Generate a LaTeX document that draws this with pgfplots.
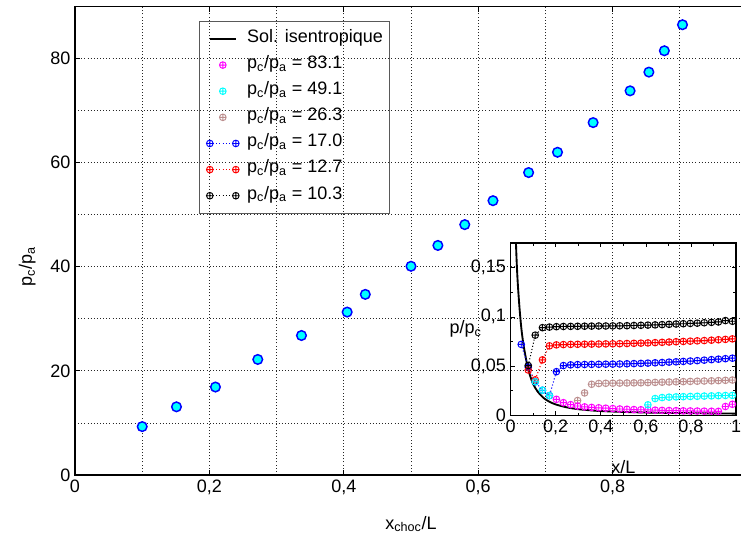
\documentclass[border=0pt]{standalone}
\usepackage{fontspec}
\setmainfont{Liberation Sans}
\usepackage{pgfplots}
\pgfplotsset{compat=1.18}
\definecolor{cmag}{RGB}{255,0,255}
\definecolor{ccyan}{RGB}{0,255,255}
\definecolor{cbrown}{RGB}{188,143,143}
\definecolor{cblue}{RGB}{0,0,255}
\definecolor{cred}{RGB}{255,0,0}
\pgfplotsset{
  ins/.style={mark=oplus, mark size=2.5pt, line width=0.7pt, mark options={solid, line width=0.7pt}},
  insonly/.style={ins, only marks},
  insline/.style={ins, line width=0.8pt, dash pattern=on 0.8pt off 1.6pt},
  dotgrid/.style={black!85, line width=0.6pt, dash pattern=on 0.75pt off 1.6pt},
  legline/.style={legend image code/.code={\draw[##1] (0pt,0pt) -- (19.5pt,0pt);}},
  legmark/.style={legend image code/.code={\path[draw=none] (0pt,0pt) -- (19.5pt,0pt); \draw[##1] plot coordinates {(9.75pt,0pt)};}},
  leglinemark/.style={legend image code/.code={\draw[##1] plot coordinates {(0pt,0pt) (19.5pt,0pt)};}},
}
\begin{document}
\begin{tikzpicture}[font=\fontsize{13.5}{16}\selectfont]
\useasboundingbox (0,0) rectangle (555.75pt,402.75pt);
% ---------------- main axis ----------------
\begin{axis}[
  at={(56.25pt,46.5pt)}, anchor=south west,
  width=504pt, height=351.375pt, scale only axis,
  xmin=0, xmax=1, ymin=0, ymax=90,
  xtick={0,0.2,0.4,0.6,0.8}, minor xtick={0.1,0.3,0.5,0.7,0.9},
  ytick={0,20,40,60,80}, minor ytick={10,30,50,70},
  grid=both,
  major grid style={dotgrid}, minor grid style={dotgrid},
  tick align=inside, major tick length=4pt, minor tick length=0pt,
  tick style={black, line width=0.6pt},
  axis line style={black, line width=1.1pt},
  /pgf/number format/use comma, /pgf/number format/fixed,
  /pgf/number format/assume math mode=true,
  xlabel={x\textsubscript{choc}/L},
  xlabel style={at={(axis description cs:0.5,-0.1153)}, anchor=base},
  ylabel={p\textsubscript{c}/p\textsubscript{a}},
  ylabel style={at={(axis description cs:-0.064,0.444)}, anchor=base},
  legend cell align=left,
  legend style={at={(axis description cs:0.185,0.9697)}, anchor=north west,
    draw=black!65, line width=0.75pt, fill=none,
    inner xsep=5pt, inner ysep=3.5pt, row sep=0pt, column sep=6pt,
    nodes={inner sep=0pt, text height=12.3pt, text depth=7.3pt}},
]
\addlegendimage{black, line width=1.4pt, legline}
\addlegendentry{Sol. isentropique}
\addlegendimage{insonly, cmag, legmark}
\addlegendentry{p\textsubscript{c}/p\textsubscript{a} = 83.1}
\addlegendimage{insonly, ccyan, legmark}
\addlegendentry{p\textsubscript{c}/p\textsubscript{a} = 49.1}
\addlegendimage{insonly, cbrown, legmark}
\addlegendentry{p\textsubscript{c}/p\textsubscript{a} = 26.3}
\addlegendimage{insline, cblue, leglinemark}
\addlegendentry{p\textsubscript{c}/p\textsubscript{a} = 17.0}
\addlegendimage{insline, cred, leglinemark}
\addlegendentry{p\textsubscript{c}/p\textsubscript{a} = 12.7}
\addlegendimage{insline, black, leglinemark}
\addlegendentry{p\textsubscript{c}/p\textsubscript{a} = 10.3}
\addplot[forget plot, only marks, mark=*, mark size=3.6pt,
  mark options={fill=ccyan, draw=cblue, line width=1.1pt}] coordinates {
(0.100,9.3) (0.151,13.1) (0.209,16.9) (0.272,22.2) (0.337,26.8) (0.405,31.3)
(0.432,34.7) (0.500,40.1) (0.540,44.1) (0.580,48.1) (0.622,52.7) (0.675,58.1)
(0.718,62.0) (0.771,67.7) (0.826,73.8) (0.854,77.4) (0.877,81.5) (0.904,86.5)};
\end{axis}
% ---------------- inset ----------------
\begin{axis}[
  at={(383.0pt,91.3pt)}, anchor=south west,
  width=169pt, height=129.2pt, scale only axis,
  xmin=0, xmax=1, ymin=0, ymax=0.175,
  xtick={0,0.2,0.4,0.6,0.8,1}, minor xtick={0.1,0.3,0.5,0.7,0.9},
  ytick={0,0.05,0.1,0.15}, minor ytick={0.025,0.075,0.125},
  tick align=inside, major tick length=3pt, minor tick length=2pt,
  tick style={black, line width=0.5pt},
  axis line style={black, line width=1.1pt},
  /pgf/number format/use comma, /pgf/number format/fixed,
  /pgf/number format/precision=2,
  /pgf/number format/assume math mode=true,
  xlabel={x/L},
  xlabel style={at={(axis description cs:0.5,-0.3407)}, anchor=base},
  ylabel={p/p\textsubscript{c}},
  ylabel style={at={(axis description cs:-0.2916,0.4759)}, anchor=base west, rotate=-90},
]
\addplot[black, line width=1.4pt, smooth] coordinates {
(0.02,0.20) (0.025,0.165) (0.03,0.140) (0.035,0.122) (0.041,0.104) (0.048,0.087)
(0.056,0.073) (0.065,0.061) (0.074,0.0505) (0.085,0.041) (0.1,0.0316) (0.12,0.024)
(0.145,0.0178) (0.17,0.014) (0.2,0.011) (0.25,0.008) (0.3,0.0062) (0.35,0.0051)
(0.4,0.0043) (0.5,0.0034) (0.6,0.0028) (0.7,0.0024) (0.8,0.0021) (0.9,0.0019) (1,0.0017)};
% blue 17.0
\addplot[insline, cblue] coordinates {
(0.047,0.072) (0.078,0.049) (0.109,0.034) (0.141,0.0254) (0.172,0.0200) (0.203,0.0443)
(0.234,0.0505) (0.266,0.0512) (0.297,0.0515) (0.328,0.0516) (0.359,0.0517) (0.391,0.0518)
(0.422,0.0519) (0.453,0.0520) (0.484,0.0521) (0.516,0.0523) (0.547,0.0525) (0.578,0.0527)
(0.609,0.0530) (0.641,0.0533) (0.672,0.0536) (0.703,0.0540) (0.734,0.0543) (0.766,0.0547)
(0.797,0.0551) (0.828,0.0555) (0.859,0.0560) (0.891,0.0565) (0.922,0.0570) (0.953,0.0575) (0.984,0.0580)};
% red 12.7
\addplot[insline, cred] coordinates {
(0.078,0.046) (0.109,0.036) (0.141,0.0563) (0.172,0.0705) (0.203,0.0715) (0.234,0.0718)
(0.266,0.0720) (0.297,0.0721) (0.328,0.0722) (0.359,0.0723) (0.391,0.0724) (0.422,0.0725)
(0.453,0.0726) (0.484,0.0727) (0.516,0.0729) (0.547,0.0731) (0.578,0.0733) (0.609,0.0735)
(0.641,0.0738) (0.672,0.0741) (0.703,0.0744) (0.734,0.0747) (0.766,0.0750) (0.797,0.0753)
(0.828,0.0756) (0.859,0.0759) (0.891,0.0763) (0.922,0.0767) (0.953,0.0771) (0.984,0.0776)};
% black 10.3
\addplot[insline, black] coordinates {
(0.078,0.0505) (0.109,0.0814) (0.141,0.0890) (0.172,0.0896) (0.203,0.0900) (0.234,0.0902)
(0.266,0.0903) (0.297,0.0904) (0.328,0.0905) (0.359,0.0906) (0.391,0.0907) (0.422,0.0907)
(0.453,0.0908) (0.484,0.0909) (0.516,0.0910) (0.547,0.0912) (0.578,0.0914) (0.609,0.0916)
(0.641,0.0918) (0.672,0.0921) (0.703,0.0924) (0.734,0.0927) (0.766,0.0930) (0.797,0.0933)
(0.828,0.0936) (0.859,0.0940) (0.891,0.0944) (0.922,0.0948) (0.953,0.0962) (0.984,0.0955)};
% brown 26.3
\addplot[insonly, cbrown] coordinates {
(0.297,0.0150) (0.328,0.0227) (0.359,0.0315) (0.391,0.0323) (0.422,0.0325) (0.453,0.0326)
(0.484,0.0327) (0.516,0.0328) (0.547,0.0329) (0.578,0.0330) (0.609,0.0332) (0.641,0.0334)
(0.672,0.0336) (0.703,0.0338) (0.734,0.0340) (0.766,0.0342) (0.797,0.0344) (0.828,0.0346)
(0.859,0.0348) (0.891,0.0350) (0.922,0.0352) (0.953,0.0355) (0.984,0.0358)};
% magenta 83.1
\addplot[insonly, cmag] coordinates {
(0.203,0.0162) (0.234,0.0128) (0.266,0.0108) (0.297,0.0094) (0.328,0.0085) (0.359,0.0080)
(0.391,0.0076) (0.422,0.0072) (0.453,0.0068) (0.484,0.0064) (0.516,0.0061) (0.547,0.0058)
(0.578,0.0056) (0.609,0.0054) (0.641,0.0052) (0.672,0.0050) (0.703,0.0048) (0.734,0.0047)
(0.766,0.0045) (0.797,0.0044) (0.828,0.0043) (0.859,0.0042) (0.891,0.0041) (0.922,0.0040)
(0.953,0.0089) (0.984,0.0112)};
% cyan 49.1
\addplot[insonly, ccyan] coordinates {
(0.109,0.034) (0.141,0.0254) (0.172,0.0200)
(0.609,0.0106) (0.641,0.0170) (0.672,0.0180) (0.703,0.0184) (0.734,0.0187) (0.766,0.0189)
(0.797,0.0191) (0.828,0.0193) (0.859,0.0195) (0.891,0.0197) (0.922,0.0199) (0.953,0.0201) (0.984,0.0202)};
\end{axis}
\end{tikzpicture}
\end{document}
